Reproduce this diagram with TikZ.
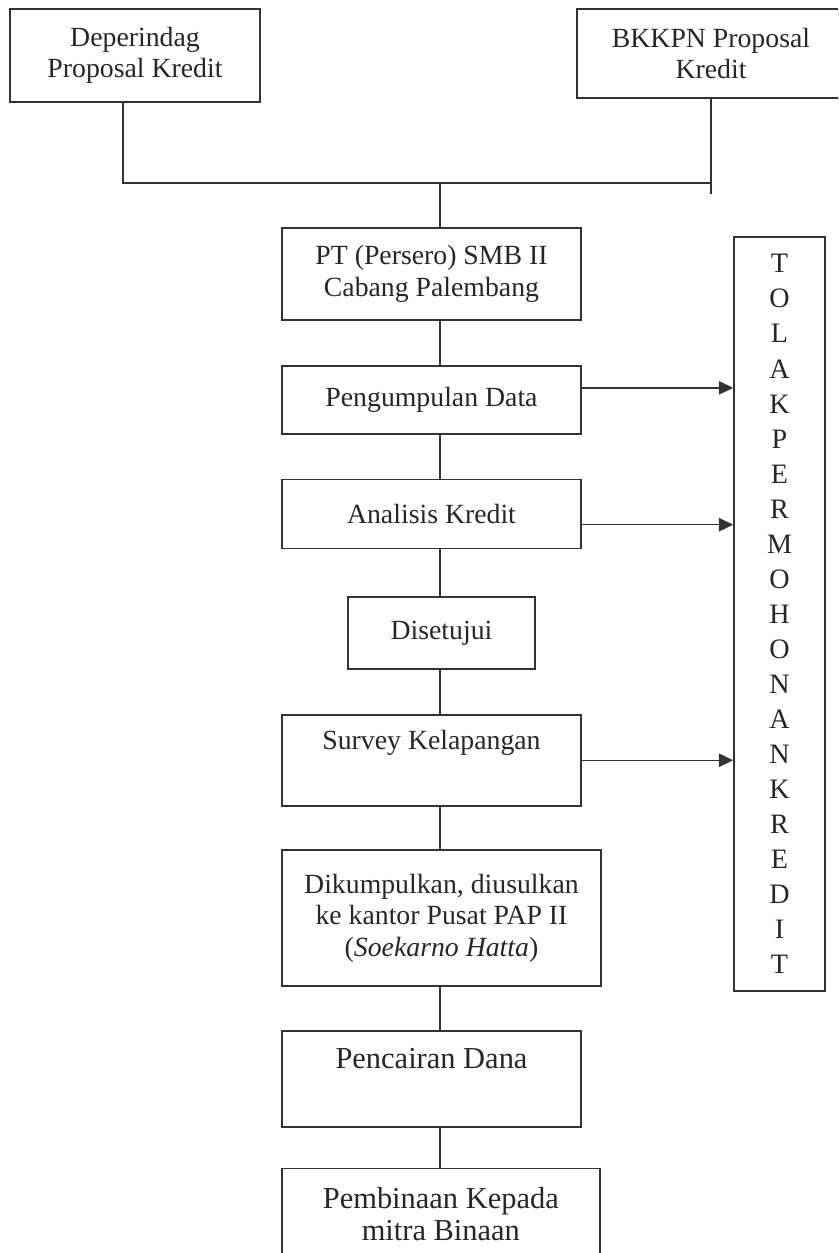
\documentclass[tikz,border=0pt]{standalone}
\usepackage{fontspec}
\setmainfont{Liberation Serif}
\usetikzlibrary{arrows.meta,positioning}

\begin{document}
\begin{tikzpicture}[
  >={Triangle[length=0.43cm,width=0.4cm]},
  font=\fontsize{23.7}{27}\selectfont,
  box/.style={draw=black!80, line width=1.3pt, align=center,
              text=black!85, inner sep=2pt},
  wide/.style={box, minimum width=8.97cm},
  big/.style={font=\fontsize{26}{27}\selectfont},
  line/.style={draw=black!80, line width=1.3pt},
  arr/.style={->, line width=1.3pt, draw=black!80},
  node distance=1.33cm,
]
  \useasboundingbox (0,0) rectangle (25.14,-37.59);
  \clip (0,0) rectangle (25.14,-37.59);

  % proposals
  \node[box, minimum width=7.5cm, minimum height=2.79cm] (dep) at (4.05,-1.665)
    {Deperindag\\Proposal Kredit};
  \node[box, minimum width=8.04cm, minimum height=2.67cm] (bkk) at (21.33,-1.605)
    {BKKPN Proposal\\Kredit};

  % main column
  \node[wide, minimum height=2.76cm] (pt) at (12.945,-8.22)
    {PT (Persero) SMB II\\Cabang Palembang};
  \node[wide, minimum height=2.04cm, below=of pt] (data) {Pengumpulan Data};
  \node[wide, minimum height=2.07cm, below=of data] (analisis) {Analisis Kredit};
  \node[box, minimum width=5.61cm, minimum height=2.16cm,
        below=1.4cm of analisis, xshift=0.3cm] (dis) {Disetujui};
  \node[wide, minimum height=2.73cm, below=of dis, xshift=-0.3cm] (survey)
    {Survey Kelapangan\\ \strut};
  \node[box, minimum width=9.57cm, minimum height=4.08cm,
        below=1.28cm of survey, xshift=0.3cm] (dik)
    {Dikumpulkan, diusulkan\\ke kantor Pusat PAP II\\(\textit{Soekarno Hatta})};
  \node[wide, big, minimum height=2.88cm, below=1.3cm of dik, xshift=-0.3cm] (cair)
    {Pencairan Dana\\ \strut};
  \node[box, big, minimum width=9.54cm, minimum height=2.75cm,
        below=1.2cm of cair, xshift=0.28cm] (bina) {Pembinaan Kepada\\mitra Binaan};

  % rejection
  \node[box, minimum width=2.73cm, minimum height=22.62cm,
        font=\fontsize{24}{29.9}\selectfont] (tolak) at (23.385,-18.42)
    {T\\O\\L\\A\\K\\P\\E\\R\\M\\O\\H\\O\\N\\A\\N\\K\\R\\E\\D\\I\\T};

  % joining the two proposals
  \coordinate (join) at (13.2,-5.49);
  \coordinate (depdown) at ([xshift=-0.36cm]dep.south);
  \draw[line] (depdown) |- (join) -- (join -| bkk.south);
  \draw[line] (bkk.south) -- ++(0,-2.85);
  \draw[line] (join) -- (join |- pt.north);

  \draw[line] (pt.south -| join) -- (data.north -| join);
  \draw[line] (data.south -| join) -- (analisis.north -| join);
  \draw[line] (analisis.south -| join) -- (dis.north -| join);
  \draw[line] (dis.south -| join) -- (survey.north -| join);
  \draw[line] (survey.south -| join) -- (dik.north -| join);
  \draw[line] (dik.south -| join) -- (cair.north -| join);
  \draw[line] (cair.south -| join) -- (bina.north -| join);

  \coordinate (d1) at ([yshift=0.36cm]data.east);
  \coordinate (a1) at ([yshift=-0.315cm]analisis.east);
  \draw[arr] (d1) -- (d1 -| tolak.west);
  \draw[arr] (a1) -- (a1 -| tolak.west);
  \draw[arr] (survey.east) -- (survey.east -| tolak.west);
\end{tikzpicture}
\end{document}
